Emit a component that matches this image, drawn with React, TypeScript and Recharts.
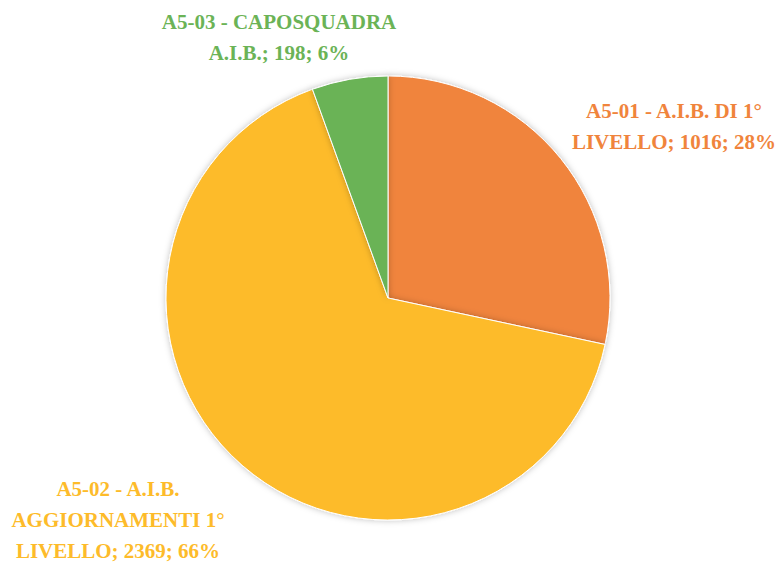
import { PieChart, Pie, Cell } from "recharts"

const categories = ["A5-01 - A.I.B. DI 1° LIVELLO", "A5-02 - A.I.B. AGGIORNAMENTI 1° LIVELLO", "A5-03 - CAPOSQUADRA A.I.B."]
const values = [1016, 2369, 198]
const percents = ["28%", "66%", "6%"]
const colors = ["#F0843C", "#FDBB2A", "#6BB356"]

// label lines, wrapped the way the original wraps them
const labelLines = [
  ["A5-01 - A.I.B. DI 1°", "LIVELLO; 1016; 28%"],
  ["A5-02 - A.I.B.", "AGGIORNAMENTI 1°", "LIVELLO; 2369; 66%"],
  ["A5-03 - CAPOSQUADRA", "A.I.B.; 198; 6%"],
]

const data = categories.map((name, i) => ({ name, value: values[i], pct: percents[i] }))

// where each label block sits, relative to the pie centre
const labelOffsets = [
  { dx: 286, dy: -180 },
  { dx: -270, dy: 198 },
  { dx: -109, dy: -269 },
]

function renderLabel(props: any) {
  const { cx, cy, index } = props
  const off = labelOffsets[index]
  const lines = labelLines[index]
  const lh = 31
  return (
    <text
      x={cx + off.dx}
      y={cy + off.dy}
      textAnchor="middle"
      fill={colors[index]}
      fontFamily="'Liberation Serif', 'DejaVu Serif', serif"
      fontWeight="bold"
      fontSize={21}
    >
      {lines.map((l, i) => (
        <tspan key={i} x={cx + off.dx} dy={i === 0 ? 0 : lh}>{l}</tspan>
      ))}
    </text>
  )
}

export default function App() {
  return (
    <div style={{ position: "absolute", left: 0, top: 0, width: 779, height: 563, background: "#fff" }}>
      <PieChart width={779} height={563} margin={{ top: 0, right: 0, bottom: 0, left: 0 }}>
        <defs>
          <filter id="shadow" x="-10%" y="-10%" width="120%" height="120%">
            <feDropShadow dx="0" dy="0" stdDeviation="3" floodColor="#000" floodOpacity="0.25" />
          </filter>
        </defs>
        <Pie
          data={data}
          dataKey="value"
          nameKey="name"
          cx={388}
          cy={298}
          outerRadius={222}
          startAngle={90}
          endAngle={-270}
          stroke="#fff"
          strokeWidth={1}
          label={renderLabel}
          labelLine={false}
          isAnimationActive={false}
          style={{ filter: "url(#shadow)" }}
        >
          {data.map((d, i) => (
            <Cell key={d.name} fill={colors[i]} />
          ))}
        </Pie>
      </PieChart>
    </div>
  )
}
